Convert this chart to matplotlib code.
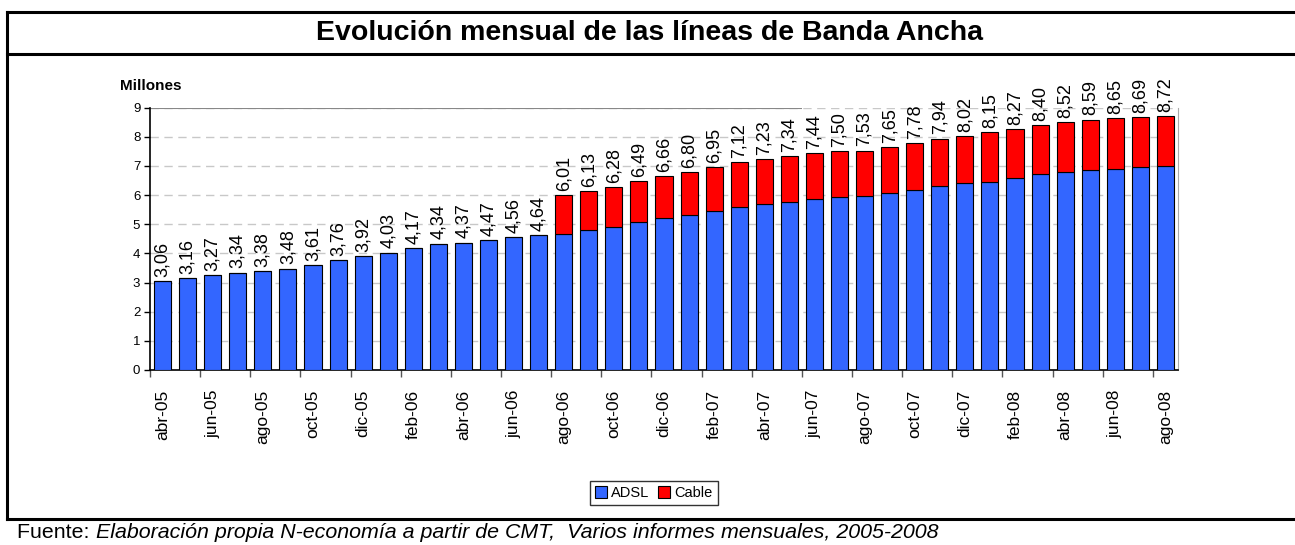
import matplotlib
matplotlib.use("Agg")
import matplotlib.pyplot as plt
from matplotlib.lines import Line2D
from matplotlib.patches import Patch

plt.rcParams['font.family'] = ['Liberation Sans', 'DejaVu Sans']

months = ["abr-05", "may-05", "jun-05", "jul-05", "ago-05", "sep-05", "oct-05", "nov-05", "dic-05",
          "ene-06", "feb-06", "mar-06", "abr-06", "may-06", "jun-06", "jul-06", "ago-06", "sep-06",
          "oct-06", "nov-06", "dic-06", "ene-07", "feb-07", "mar-07", "abr-07", "may-07", "jun-07",
          "jul-07", "ago-07", "sep-07", "oct-07", "nov-07", "dic-07", "ene-08", "feb-08", "mar-08",
          "abr-08", "may-08", "jun-08", "jul-08", "ago-08"]

totals = [3.06, 3.16, 3.27, 3.34, 3.38, 3.48, 3.61, 3.76, 3.92, 4.03, 4.17, 4.34, 4.37, 4.47,
          4.56, 4.64, 6.01, 6.13, 6.28, 6.49, 6.66, 6.80, 6.95, 7.12, 7.23, 7.34, 7.44, 7.50,
          7.53, 7.65, 7.78, 7.94, 8.02, 8.15, 8.27, 8.40, 8.52, 8.59, 8.65, 8.69, 8.72]

adsl = [3.06, 3.16, 3.27, 3.34, 3.38, 3.48, 3.61, 3.76, 3.92, 4.03, 4.17, 4.34, 4.37, 4.47,
        4.56, 4.64, 4.68, 4.80, 4.90, 5.09, 5.21, 5.32, 5.44, 5.60, 5.69, 5.76, 5.86, 5.93,
        5.97, 6.08, 6.19, 6.31, 6.41, 6.45, 6.58, 6.73, 6.79, 6.86, 6.90, 6.96, 6.99]

cable = [round(t - a, 2) for t, a in zip(totals, adsl)]

blue = "#3366FF"
red = "#FF0000"

fig = plt.figure(figsize=(12.95, 5.45), dpi=100)
ax = fig.add_axes([150 / 1295, 1 - 370 / 545, (1178 - 150) / 1295, (370 - 107.7) / 545])

x = list(range(len(months)))
ax.bar(x, adsl, width=0.68, color=blue, edgecolor="black", linewidth=0.8, zorder=3)
ax.bar(x, cable, width=0.68, bottom=adsl, color=red, edgecolor="black", linewidth=0.8, zorder=3)

for i, t in enumerate(totals):
    ax.annotate(f"{t:.2f}".replace(".", ","), (i, t), xytext=(0, 3), textcoords="offset points",
                rotation=90, ha="center", va="bottom", fontsize=13)

ax.set_xlim(-0.5, len(months) - 0.5)
ax.set_ylim(0, 9)
ax.set_yticks(range(10))
ax.tick_params(axis="y", labelsize=9.5, length=4, width=1, pad=3)

# labels centered on every other bar, tick marks on bar boundaries
ax.set_xticks(x[::2])
ax.set_xticklabels(months[::2], rotation=90, fontsize=12.5)
ax.set_xticks([i - 0.5 for i in x[::2]], minor=True)
ax.tick_params(axis="x", which="major", length=0, pad=14)
ax.tick_params(axis="x", which="minor", length=5, width=1, color="#555555")

ax.yaxis.grid(True, color="#C8C8C8", linestyle=(0, (6, 4)), linewidth=1)
ax.set_axisbelow(True)
ax.spines["top"].set_visible(False)
ax.spines["right"].set_color("#AAAAAA")
ax.spines["left"].set_linewidth(1.2)
ax.spines["bottom"].set_linewidth(1.2)
ax.hlines(9, -0.5, 25.5, color="#888888", linewidth=1.5, zorder=2)

fig.text(120 / 1295, 1 - 86 / 545, "Millones", fontsize=11, fontweight="bold", va="center")

# frame of the chart
for yy in (12, 54, 519):
    fig.add_artist(Line2D([7 / 1295, 1], [1 - yy / 545] * 2, color="black", linewidth=2.2))
fig.add_artist(Line2D([7 / 1295] * 2, [1 - 12 / 545, 1 - 519 / 545], color="black", linewidth=2.2))

fig.text(649 / 1295, 1 - 33 / 545, "Evolución mensual de las líneas de Banda Ancha",
         fontsize=20.5, fontweight="bold", ha="center", va="center")

handles = [Patch(facecolor=blue, edgecolor="black", linewidth=0.8),
           Patch(facecolor=red, edgecolor="black", linewidth=0.8)]
fig.legend(handles, ["ADSL", "Cable"], loc="center", bbox_to_anchor=(654 / 1295, 1 - 493 / 545),
           ncol=2, fontsize=10.5, frameon=True, fancybox=False, edgecolor="black",
           handlelength=0.8, handleheight=0.8, handletextpad=0.3, columnspacing=0.6,
           borderpad=0.35)

src = fig.text(17 / 1295, 1 - 533 / 545, "Fuente: ", fontsize=15.4, va="center")
fig.canvas.draw()
ext = src.get_window_extent()
fig.text(ext.x1 / 1295 + 1 / 1295, 1 - 533 / 545,
         "Elaboración propia N-economía a partir de CMT,  Varios informes mensuales, 2005-2008",
         fontsize=15.4, style="italic", va="center")

fig.savefig("out.png", dpi=100)
